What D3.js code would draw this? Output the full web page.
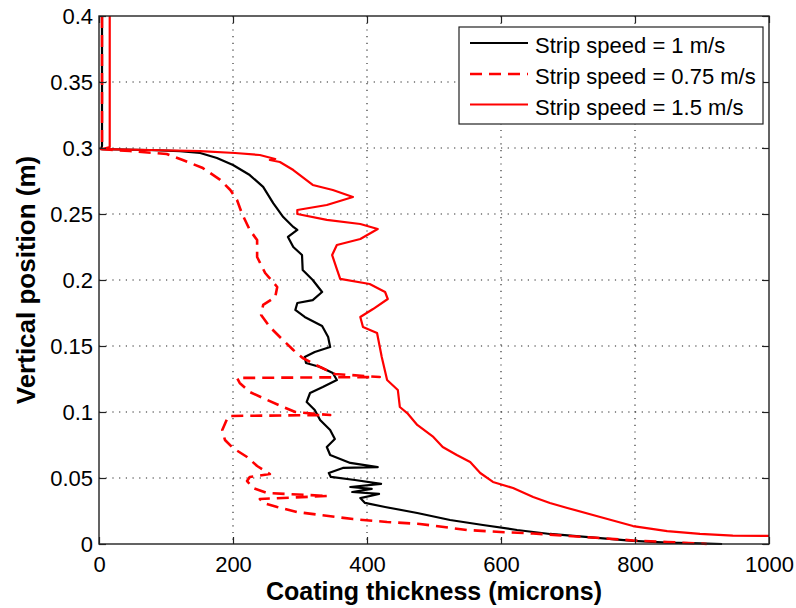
<!DOCTYPE html>
<html>
<head>
<meta charset="utf-8">
<script src="https://cdn.jsdelivr.net/npm/d3@7"></script>
<style>
body { margin: 0; background: #fff; }
text { font-family: "Liberation Sans", Arial, sans-serif; fill: #000; }
</style>
</head>
<body>
<div id="chart"></div>
<script>
// axis ticks
var xTicks = [0, 200, 400, 600, 800, 1000];
var yTicks = [0, 0.05, 0.1, 0.15, 0.2, 0.25, 0.3, 0.35, 0.4];
var yTickLabels = ["0", "0.05", "0.1", "0.15", "0.2", "0.25", "0.3", "0.35", "0.4"];
var seriesNames = ["Strip speed = 1 m/s", "Strip speed = 0.75 m/s", "Strip speed = 1.5 m/s"];

// strip speed 1 m/s (black)
var thick1 = [4.5, 4.5, 3, 73, 121, 151, 176, 200, 225, 245, 260, 275, 290, 296, 282, 290, 303, 304, 319, 333,
    319, 296, 293, 307, 333, 342, 345, 322, 307, 309, 330, 349, 355, 334, 315, 310, 322, 330, 345, 352,
    340, 345, 375, 416, 364, 343, 346, 382, 421, 375, 407, 378, 418, 390, 397, 427, 475, 524, 573, 624,
    673, 748, 797, 848, 897, 930];
var pos1 = [0.4, 0.3015, 0.2992, 0.2985, 0.2977, 0.2962, 0.2924, 0.2871, 0.2795, 0.2705, 0.2583, 0.2477, 0.2402, 0.2379, 0.2326, 0.225, 0.2189, 0.2076, 0.2, 0.1909,
    0.1848, 0.1826, 0.1773, 0.172, 0.1652, 0.1568, 0.1492, 0.1455, 0.1417, 0.1371, 0.1341, 0.1295, 0.1242, 0.1189, 0.1144, 0.1076, 0.1015, 0.0939, 0.0864, 0.0795,
    0.0735, 0.0674, 0.0614, 0.0583, 0.0576, 0.0538, 0.0508, 0.0485, 0.0455, 0.0432, 0.0417, 0.0394, 0.0379, 0.0348, 0.0311, 0.028, 0.0235, 0.0182, 0.0144, 0.0106,
    0.0076, 0.0045, 0.0023, 0.0011, 0.0005, 0];

// strip speed 0.75 m/s (red dashed)
var thick075 = [4.5, 4.5, 3, 46, 101, 125, 155, 181, 196, 206, 213, 225, 236, 236, 248, 266, 263, 245, 242, 255,
    270, 290, 304, 330, 352, 419, 206, 210, 225, 251, 275, 293, 345, 193, 184, 188, 200, 221, 236, 255,
    225, 221, 230, 251, 342, 240, 245, 266, 296, 330, 379, 430, 479, 549, 599, 648, 699, 748, 797, 848,
    897, 907];
var pos075 = [0.4, 0.3015, 0.2992, 0.2977, 0.2955, 0.2909, 0.2848, 0.2758, 0.2682, 0.2606, 0.2508, 0.2379, 0.2303, 0.2174, 0.2053, 0.1947, 0.1871, 0.1811, 0.1735, 0.1644,
    0.1568, 0.147, 0.1409, 0.1341, 0.1288, 0.1265, 0.1258, 0.122, 0.1152, 0.1091, 0.1038, 0.1, 0.0977, 0.097, 0.0864, 0.0788, 0.0727, 0.0659, 0.0591, 0.053,
    0.0508, 0.0477, 0.0424, 0.0386, 0.0364, 0.0341, 0.0311, 0.028, 0.0242, 0.022, 0.0189, 0.0167, 0.0152, 0.0106, 0.0091, 0.008, 0.0061, 0.0045, 0.0027, 0.0015,
    0.0004, 0];

// strip speed 1.5 m/s (red solid)
var thick15 = [16, 16, 5, 76, 151, 203, 240, 263, 255, 270, 290, 319, 349, 379, 340, 296, 296, 340, 390, 416,
    390, 355, 348, 355, 360, 404, 427, 431, 409, 390, 394, 415, 422, 430, 446, 449, 460, 475, 499, 513,
    534, 554, 569, 588, 618, 648, 673, 699, 748, 797, 848, 897, 946, 1000];
var pos15 = [0.4, 0.3008, 0.2992, 0.2985, 0.2977, 0.2962, 0.2947, 0.2917, 0.2909, 0.2894, 0.2833, 0.272, 0.2682, 0.2629, 0.2568, 0.253, 0.25, 0.2455, 0.2424, 0.2386,
    0.2311, 0.2265, 0.2189, 0.2083, 0.2008, 0.197, 0.1909, 0.1856, 0.178, 0.172, 0.1644, 0.1598, 0.1417, 0.1242, 0.1167, 0.1038, 0.0992, 0.0902, 0.0811, 0.0735,
    0.0674, 0.0621, 0.0538, 0.047, 0.0424, 0.0356, 0.0311, 0.0273, 0.0205, 0.0136, 0.0098, 0.0076, 0.0064, 0.0061];

function zipSeries(xs, ys) {
    var out = [];
    for (var i = 0; i < xs.length; i++) {
        out.push([xs[i], ys[i]]);
    }
    return out;
}

var series = [
    { name: seriesNames[0], points: zipSeries(thick1, pos1), color: "#000000", width: 2.2, dash: null },
    { name: seriesNames[1], points: zipSeries(thick075, pos075), color: "#ff0000", width: 2.6, dash: "12,7" },
    { name: seriesNames[2], points: zipSeries(thick15, pos15), color: "#ff0000", width: 2.2, dash: null }
];

var w = 796, h = 608,
    plotLeft = 99, plotRight = 769, plotTop = 16, plotBottom = 544;

var svg = d3.select("#chart")
    .append("svg")
    .attr("width", w)
    .attr("height", h);

var x = d3.scaleLinear().domain([0, 1000]).range([plotLeft, plotRight]);
var y = d3.scaleLinear().domain([0, 0.4]).range([plotBottom, plotTop]);

// dotted grid
var grid = svg.append("g").attr("class", "grid");
grid.selectAll("line.gx")
    .data(xTicks.slice(1, -1))
    .enter()
    .append("line")
    .attr("x1", function (d) { return x(d); })
    .attr("x2", function (d) { return x(d); })
    .attr("y1", plotTop)
    .attr("y2", plotBottom)
    .attr("stroke", "#222")
    .attr("stroke-width", 1.1)
    .attr("stroke-dasharray", "1.2,5.5");
grid.selectAll("line.gy")
    .data(yTicks.slice(1, -1))
    .enter()
    .append("line")
    .attr("y1", function (d) { return y(d); })
    .attr("y2", function (d) { return y(d); })
    .attr("x1", plotLeft)
    .attr("x2", plotRight)
    .attr("stroke", "#222")
    .attr("stroke-width", 1.1)
    .attr("stroke-dasharray", "1.2,5.5");

// curves
var line = d3.line()
    .x(function (d) { return x(d[0]); })
    .y(function (d) { return y(d[1]); });

svg.append("g")
    .selectAll("path")
    .data(series)
    .enter()
    .append("path")
    .attr("d", function (d) { return line(d.points); })
    .attr("fill", "none")
    .attr("stroke", function (d) { return d.color; })
    .attr("stroke-width", function (d) { return d.width; })
    .attr("stroke-dasharray", function (d) { return d.dash; })
    .attr("stroke-linejoin", "round");

// axes with inward ticks on all four sides
var xAxis = d3.axisBottom(x).tickValues(xTicks).tickSize(-7).tickPadding(12).tickFormat(d3.format("d"));
var yAxis = d3.axisLeft(y).tickValues(yTicks).tickSize(-7).tickPadding(6)
    .tickFormat(function (d, i) { return yTickLabels[i]; });

svg.append("g").attr("transform", "translate(0," + plotBottom + ")").call(xAxis);
svg.append("g").attr("transform", "translate(" + plotLeft + ",0)").call(yAxis);
svg.append("g").attr("transform", "translate(0," + plotTop + ")")
    .call(d3.axisTop(x).tickValues(xTicks).tickSize(-7).tickFormat(""));
svg.append("g").attr("transform", "translate(" + plotRight + ",0)")
    .call(d3.axisRight(y).tickValues(yTicks).tickSize(-7).tickFormat(""));

svg.selectAll(".domain").remove();
svg.selectAll(".tick line").attr("stroke", "#222").attr("stroke-width", 1.2);
svg.selectAll(".tick text").attr("font-size", 22).attr("font-family", "Liberation Sans, Arial, sans-serif").attr("fill", "#000");

svg.append("rect")
    .attr("x", plotLeft)
    .attr("y", plotTop)
    .attr("width", plotRight - plotLeft)
    .attr("height", plotBottom - plotTop)
    .attr("fill", "none")
    .attr("stroke", "#222")
    .attr("stroke-width", 1.4);

// axis titles
svg.append("text")
    .attr("x", (plotLeft + plotRight) / 2)
    .attr("y", 600)
    .attr("text-anchor", "middle")
    .attr("font-size", 25)
    .attr("font-weight", "bold")
    .text("Coating thickness (microns)");

svg.append("text")
    .attr("transform", "translate(35," + ((plotTop + plotBottom) / 2) + ") rotate(-90)")
    .attr("text-anchor", "middle")
    .attr("font-size", 26)
    .attr("font-weight", "bold")
    .text("Vertical position (m)");

// legend
var legend = svg.append("g");
legend.append("rect")
    .attr("x", 459)
    .attr("y", 27)
    .attr("width", 304)
    .attr("height", 97)
    .attr("fill", "#fff")
    .attr("stroke", "#222")
    .attr("stroke-width", 1.2);

var rowY = [43, 74, 104.5];
var rows = legend.selectAll("g.row")
    .data(series)
    .enter()
    .append("g")
    .attr("transform", function (d, i) { return "translate(0," + rowY[i] + ")"; });

rows.append("line")
    .attr("x1", 470)
    .attr("x2", 528)
    .attr("stroke", function (d) { return d.color; })
    .attr("stroke-width", function (d) { return d.width; })
    .attr("stroke-dasharray", function (d) { return d.dash; });

rows.append("text")
    .attr("x", 535)
    .attr("y", 10)
    .attr("font-size", 22)
    .text(function (d) { return d.name; });
</script>
</body>
</html>
